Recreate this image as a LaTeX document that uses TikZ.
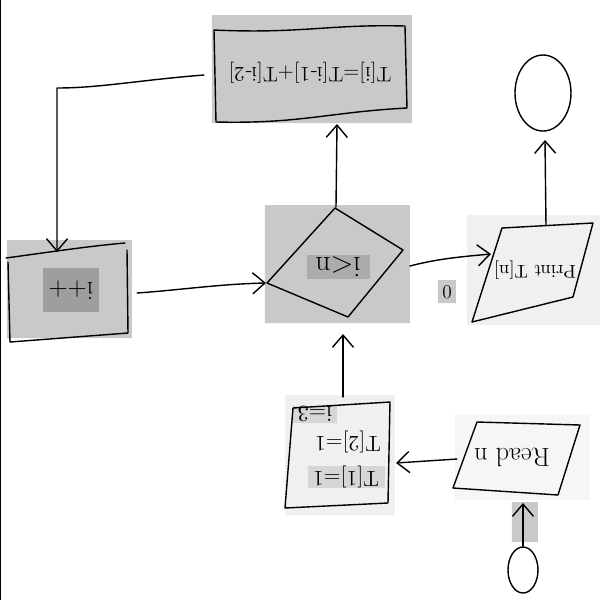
\documentclass[tikz,border=0pt]{standalone}
\usetikzlibrary{arrows.meta,positioning}
\definecolor{bgdark}{gray}{0.79}
\definecolor{bginner}{gray}{0.62}
\definecolor{bgtext}{gray}{0.67}
\definecolor{bglight}{gray}{0.94}
\definecolor{bgpale}{gray}{0.965}
\definecolor{bgline}{gray}{0.84}
\tikzset{
  hand/.style={line width=0.8pt, line join=round, line cap=round},
  flow/.style={hand, -{Straight Barb[length=7pt,width=12pt]}},
  upside/.style={rotate=180, inner sep=0pt},
}

\begin{document}
\begin{tikzpicture}[x=0.02cm, y=-0.02cm]
      \useasboundingbox (0,0) rectangle (600,600);
      \fill[white] (0,0) rectangle (600,600);
      \draw[line width=1.2pt] (0,0) -- (0,600);
      % grey backgrounds
      \fill[bgdark] (212,15) rectangle (412,123)
                    (7,240) rectangle (132,338)
                    (265,205) rectangle (410,323)
                    (438,280) rectangle (456,303)
                    (512,502) rectangle (538,542);
      \fill[bglight] (467,215) rectangle (600,325)
                     (285,395) rectangle (395,515);
      \fill[bgpale] (455,415) rectangle (590,500);
      \fill[bginner] (43,268) rectangle (99,312);
      \fill[bgtext] (307,255) rectangle (370,279);
      \fill[bgline] (293,406) rectangle (337,423)
                    (308,466) rectangle (385,488);
      % shapes
      \draw[hand] (214,30) .. controls (300,34) and (330,24) .. (405,26) -- (407,108)
                  .. controls (330,112) and (300,124) .. (216,122) -- cycle;
      \draw[hand] (6,258) .. controls (50,252) and (90,246) .. (125,243)
                  (127,250) -- (128,333) -- (10,342) -- (8,262);
      \draw[hand] (335,208) -- (403,250) -- (348,317) -- (267,283) -- cycle;
      \draw[hand] (502,228) -- (593,223) -- (573,297) -- (472,322) -- cycle;
      \draw[hand] (293,408) -- (390,402) -- (388,503) -- (285,508) -- cycle;
      \draw[hand] (477,422) -- (580,425) -- (558,495) -- (453,488) -- cycle;
      \draw[hand] (543,93) ellipse [x radius=28, y radius=38];
      \draw[hand] (523,570) ellipse [x radius=15, y radius=23];
      % texts
      \node (sum) [upside, font=\fontsize{12}{14}\selectfont] at (310,73) {T[i]=T[i-1]+T[i-2]};
      \node (inc) [upside, font=\fontsize{15}{18}\selectfont] at (71,290) {i++};
      \node (test) [upside, font=\fontsize{17}{20}\selectfont] at (338,267) {i<n};
      \node (print) [upside, font=\fontsize{10.5}{13}\selectfont] at (535,270) {Print T[n]};
      \node (read) [upside, font=\fontsize{15}{18}\selectfont] at (512,457) {Read n};
      \node (ione) [upside, font=\fontsize{12.5}{15}\selectfont] at (346,477) {T[1]=1};
      \node (itwo) [upside, font=\fontsize{12.5}{15}\selectfont] at (348,442) {T[2]=1};
      \node (ithree) [upside, font=\fontsize{13}{15}\selectfont] at (315,414) {i=3};
      \node (zero) [font=\fontsize{11}{13}\selectfont] at (447,292) {0};
      % connector ends
      \coordinate (test top) at (336,207);
      \coordinate (sum bottom) at (337,124);
      \coordinate (sum left) at (204,75);
      \coordinate (bend) at (57,88);
      \coordinate (inc top) at (57,252);
      \coordinate (inc right) at (137,293);
      \coordinate (test left) at (266,283);
      \coordinate (test right) at (410,266);
      \coordinate (print left) at (491,254);
      \coordinate (print top) at (546,225);
      \coordinate (stop) at (545,140);
      \coordinate (init top) at (343,397);
      \coordinate (test bottom) at (343,334);
      \coordinate (read left) at (457,459);
      \coordinate (init right) at (396,463);
      \coordinate (start) at (523,546);
      \coordinate (read bottom) at (523,503);
      % connectors
      \draw[flow] (test top) -- (sum bottom);
      \draw[flow] (sum left) .. controls (140,80) and (100,88) .. (bend) -- (inc top);
      \draw[flow] (inc right) .. controls (180,290) and (220,284) .. (test left);
      \draw[flow] (test right) .. controls (440,258) and (470,256) .. (print left);
      \draw[flow] (print top) -- (stop);
      \draw[flow] (init top) -- (test bottom);
      \draw[flow] (read left) -- (init right);
      \draw[flow] (start) -- (read bottom);
\end{tikzpicture}
\end{document}
